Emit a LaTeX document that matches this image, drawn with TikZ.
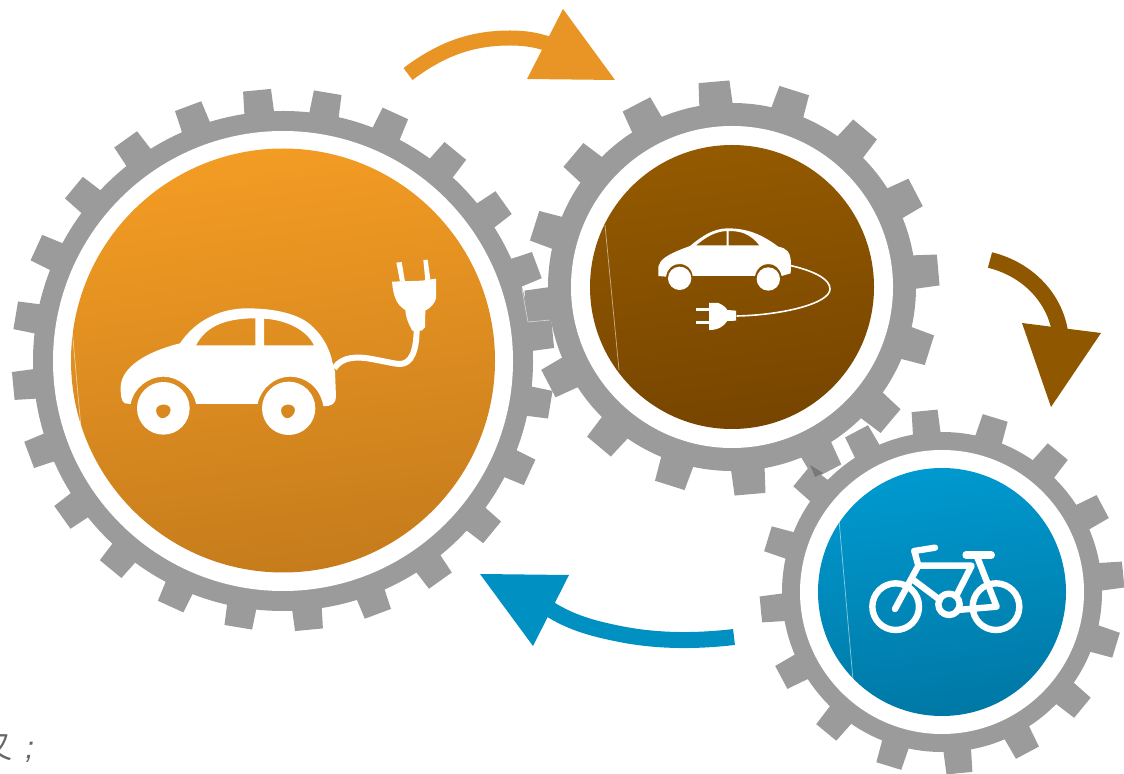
\documentclass[tikz,border=0pt]{standalone}
\usepackage{fontspec}
\newfontfamily\cjk{Noto Sans CJK SC}
\newfontfamily\capfont{Liberation Sans}
\definecolor{gearGray}{HTML}{9B9B9B}
\definecolor{arrowOrange}{HTML}{E89525}
\definecolor{arrowBrown}{HTML}{8F5700}
\definecolor{arrowBlue}{HTML}{0090C2}
\definecolor{orangeTop}{HTML}{F39C24}
\definecolor{orangeBottom}{HTML}{C67C1C}
\definecolor{brownTop}{HTML}{945A00}
\definecolor{brownBottom}{HTML}{774500}
\definecolor{blueTop}{HTML}{0099CF}
\definecolor{blueBottom}{HTML}{0078A5}
\tikzset{
  seam/.style={white, opacity=.55, line width=.35pt},
  bikeline/.style={white, line width=3.2pt, line cap=round, line join=round},
}
\begin{document}
\begin{tikzpicture}[x=.5pt,y=-.5pt]
      \useasboundingbox (0,0) rectangle (1124,774);

      % Define circles for the three gears
      \def\ringA{(283,361) circle (250)}
      \def\whiteA{(283,361) circle (230)}
      \def\discA{(283,360.5) circle (212)}
      \def\ringB{(732,287) circle (184)}
      \def\whiteB{(732,287) circle (161)}
      \def\discB{(732,287) circle (142)}
      \def\ringC{(942,592) circle (160)}
      \def\whiteC{(942,592) circle (142)}
      \def\discC{(942,592) circle (124)}

      % Large gear
      \foreach \a in {0,...,23}
        \fill[gearGray, shift={(283,360)}, rotate=5.5+15*\a]
          (245,-15) -- (271,-14) -- (271,14) -- (245,15) -- cycle;
      \fill[gearGray] \ringA;
      \fill[white] \whiteA;
      \shade[top color=orangeTop, bottom color=orangeBottom, shading angle=8] \discA;
      \draw[seam] (72,328) -- (81,428);

      % Middle gear
      \foreach \a in {0,...,15}
        \fill[gearGray, shift={(732,288)}, rotate=5+22.5*\a]
          (178,-17) -- (207,-15.5) -- (207,15.5) -- (178,17) -- cycle;
      \fill[gearGray] \ringB;
      \fill[white] \whiteB;
      \shade[top color=brownTop, bottom color=brownBottom, shading angle=8] \discB;
      \draw[seam] (605,225) -- (619,370);
      \draw[white, opacity=.6, line width=.3pt] (522,289) -- (528,322) -- (550,320);

      % Small gear
      \foreach \a in {0,...,15}
        \fill[gearGray, shift={(942,592)}, rotate=5.5+22.5*\a]
          (155,-14) -- (182,-13) -- (182,13) -- (155,14) -- cycle;
      \fill[gearGray] \ringC;
      \fill[white] \whiteC;
      \shade[top color=blueTop, bottom color=blueBottom, shading angle=8] \discC;
      \draw[seam] (839,520) -- (853,680);
      \fill[gray!95!black] (810,465) -- (823,473) -- (815,477) -- cycle;

      % Electric car
      \begin{scope}[shift={(100,240)}, scale=1/3]
        \fill[white, even odd rule]
          (240,310) .. controls (290,235) and (370,205) .. (440,205)
          .. controls (520,205) and (600,220) .. (640,262)
          .. controls (670,290) and (690,330) .. (697,365)
          -- (705,395) -- (708,470)
          .. controls (708,490) and (695,500) .. (670,498)
          .. controls (660,440) and (615,410) .. (570,410)
          .. controls (525,410) and (482,445) .. (473,492)
          -- (288,492)
          .. controls (280,445) and (235,410) .. (190,410)
          .. controls (145,410) and (100,445) .. (92,492)
          -- (75,490)
          .. controls (62,485) and (62,460) .. (62,440)
          .. controls (65,380) and (140,335) .. (240,310) -- cycle
          (288,316) .. controls (315,265) and (365,235) .. (466,235) -- (466,316) -- cycle
          (492,236) .. controls (560,240) and (620,270) .. (642,316) -- (492,316) -- cycle;
        \fill[white, even odd rule] (190,505) circle (79)
          (168,510) .. controls (170,488) and (212,488) .. (212,510)
          .. controls (212,525) and (196,535) .. (188,535)
          .. controls (178,535) and (168,525) .. (168,510) -- cycle;
        \fill[white, even odd rule] (566,505) circle (80)
          (543,510) .. controls (545,488) and (585,488) .. (585,510)
          .. controls (585,525) and (570,535) .. (562,535)
          .. controls (552,535) and (543,525) .. (543,510) -- cycle;
        % Cable and plug
        \draw[white, line width=3pt]
          (703,385) .. controls (725,350) and (770,348) .. (820,358)
          .. controls (860,365) and (885,372) .. (900,372)
          .. controls (935,372) and (950,330) .. (950,265);
        \fill[white] (876,125) -- (965,122) -- (1008,116) -- (1008,175)
          .. controls (1005,190) and (990,205) .. (976,212) -- (975,262)
          -- (965,272) -- (937,272)
          .. controls (925,250) and (918,235) .. (916,210)
          .. controls (890,195) and (880,170) .. (876,125) -- cycle;
        \fill[white] (889,68) -- (905,66) -- (915,125) -- (900,125) -- cycle;
        \fill[white] (970,60) -- (983,59) -- (991,118) -- (976,122) -- cycle;
      \end{scope}

      % Petrol car
      \begin{scope}[shift={(640,215)}, scale=1/3]
        \fill[white, even odd rule]
          (55,183) -- (55,155) .. controls (60,135) and (75,120) .. (150,93)
          .. controls (190,60) and (220,42) .. (260,40)
          .. controls (310,40) and (355,50) .. (415,95)
          .. controls (440,100) and (453,110) .. (453,150)
          -- (452,175) -- (425,183)
          .. controls (420,160) and (405,147) .. (385,147)
          .. controls (365,147) and (350,160) .. (345,183)
          -- (158,183)
          .. controls (155,160) and (140,147) .. (118,147)
          .. controls (98,147) and (82,160) .. (78,185) -- cycle
          (168,91) .. controls (200,65) and (225,50) .. (260,48) -- (260,91) -- cycle
          (266,48) .. controls (300,48) and (330,55) .. (358,91) -- (266,91) -- cycle;
        \fill[white] (119,190) circle (35);
        \fill[white] (385,192) circle (35);
        % Cable and plug
        \draw[white, line width=.8pt]
          (453,152) .. controls (530,170) and (570,195) .. (570,222)
          .. controls (570,265) and (430,300) .. (290,303);
        \fill[white] (207,264) -- (235,264) .. controls (250,270) and (258,278) .. (262,285)
          -- (288,287) -- (288,317) -- (262,318)
          .. controls (250,335) and (235,345) .. (207,345) -- cycle;
        \fill[white] (168,280) rectangle (207,288);
        \fill[white] (168,318) rectangle (207,326);
      \end{scope}

      % Bicycle
      \begin{scope}[shift={(860,535)}, scale=1/3]
        \draw[bikeline] (107,215) circle (70);
        \draw[bikeline] (408,215) circle (70);
        \draw[bikeline] (267,208) circle (32);
        \draw[bikeline] (163,48) -- (225,38);
        \draw[bikeline] (163,48) -- (175,92) -- (105,222);
        \draw[bikeline] (175,92) -- (335,92) -- (290,180);
        \draw[bikeline] (160,135) -- (240,195);
        \draw[bikeline] (350,62) -- (410,215) -- (292,225);
        \draw[white, line width=3.6pt, line cap=round] (318,60) -- (394,60);
      \end{scope}

      % Arrows between the gears
      \draw[arrowOrange, line width=7.5pt]
        (408,74) .. controls (440,50) and (470,38) .. (510,38)
        .. controls (525,38) and (537,40) .. (548,44);
      \fill[arrowOrange] (563,9) -- (615,80) -- (527,79) -- cycle;

      \draw[arrowBrown, line width=8pt]
        (990,260) .. controls (1030,270) and (1055,300) .. (1060,332);
      \fill[arrowBrown] (1022,323) -- (1101,333) -- (1051,407) -- cycle;

      \draw[arrowBlue, line width=8pt]
        (734,637) .. controls (700,641) and (660,642) .. (620,634)
        .. controls (590,628) and (570,622) .. (548,608);
      \fill[arrowBlue] (480,574) -- (569,575) -- (533,646) -- cycle;

      % Cut-off caption at the lower edge
      \node[anchor=base west, inner sep=0pt, text=gray!80!black,
        font=\cjk\fontsize{15.5}{15.5}\selectfont] (captionText) at (-19,758)
        {又\hspace{6.5pt}{\capfont\itshape ;}};
    \end{tikzpicture}
\end{document}
